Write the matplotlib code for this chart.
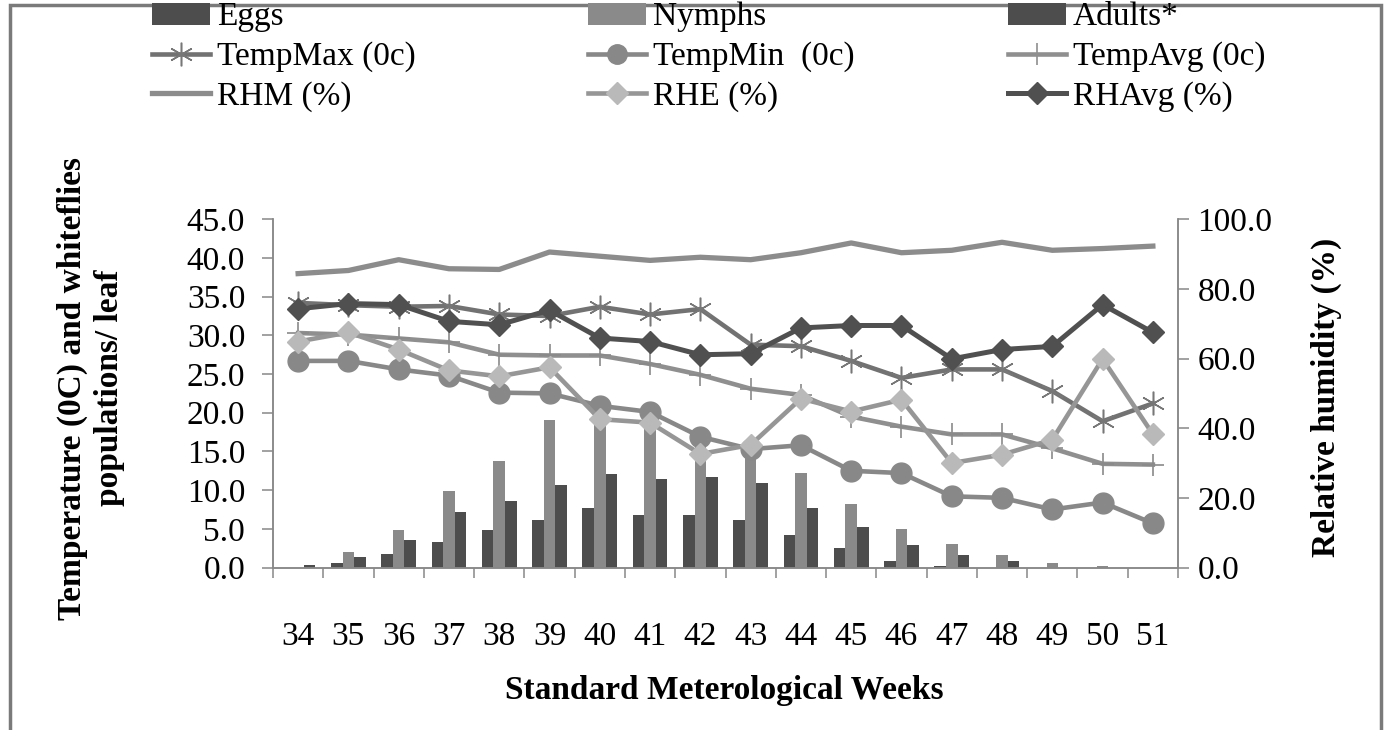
import matplotlib
matplotlib.use('Agg')
import matplotlib.pyplot as plt
from matplotlib.lines import Line2D
from matplotlib.patches import Patch, Rectangle
import numpy as np

# ---------------- data ----------------
weeks = ['34', '35', '36', '37', '38', '39', '40', '41', '42', '43', '44', '45',
         '46', '47', '48', '49', '50', '51']
eggs = [0.0, 0.6, 1.8, 3.3, 4.8, 6.2, 7.7, 6.8, 6.8, 6.1, 4.2, 2.5, 0.8, 0.2, 0.0, 0.0, 0.0, 0.0]
nymphs = [0.0, 2.0, 4.8, 9.9, 13.8, 19.1, 20.2, 19.5, 15.8, 15.5, 12.2, 8.2, 5.0, 3.1, 1.6, 0.6, 0.2, 0.0]
adults = [0.3, 1.4, 3.5, 7.2, 8.6, 10.7, 12.1, 11.5, 11.7, 10.9, 7.7, 5.2, 2.9, 1.6, 0.8, 0.0, 0.0, 0.0]

temp_max = [34.2, 33.9, 33.7, 33.8, 32.7, 32.5, 33.7, 32.7, 33.4, 28.8, 28.6, 26.7,
            24.5, 25.6, 25.6, 22.8, 18.9, 21.2]
temp_min = [26.7, 26.7, 25.6, 24.8, 22.6, 22.5, 20.9, 20.1, 16.9, 15.3, 15.8, 12.5,
            12.2, 9.2, 9.0, 7.5, 8.4, 5.7]
temp_avg = [30.3, 30.1, 29.6, 29.1, 27.5, 27.4, 27.4, 26.3, 24.9, 23.1, 22.3, 19.5,
            18.2, 17.2, 17.2, 15.4, 13.4, 13.3]

rhm = [84.4, 85.3, 88.4, 85.8, 85.6, 90.6, 89.4, 88.2, 89.1, 88.4, 90.4, 93.2,
       90.4, 91.1, 93.4, 91.1, 91.6, 92.3]
rhe = [64.9, 67.5, 62.6, 56.6, 54.9, 57.5, 42.6, 41.6, 32.6, 35.2, 48.5, 44.8,
       48.2, 30.0, 32.4, 36.7, 59.9, 38.3]
rh_avg = [74.3, 75.8, 75.5, 70.7, 69.7, 73.9, 65.9, 64.9, 61.1, 61.4, 68.8, 69.5,
          69.5, 59.9, 62.6, 63.5, 75.5, 67.5]

left_ticks = [0, 5, 10, 15, 20, 25, 30, 35, 40, 45]
right_ticks = [0, 20, 40, 60, 80, 100]

# ---------------- style ----------------
plt.rcParams['font.family'] = ['Liberation Serif', 'DejaVu Serif']
W, H = 1384, 730
FS = 24
SPINE = '#888888'

fig = plt.figure(figsize=(W / 100, H / 100), dpi=100)


def fx(px):
    return px / W


def fy(py):
    return 1 - py / H


ax_l, ax_r, ax_t, ax_b = 273, 1178, 219.3, 567.5
ax = fig.add_axes([fx(ax_l), fy(ax_b), (ax_r - ax_l) / W, (ax_b - ax_t) / H])
x = np.arange(len(weeks))
bw = 0.23

ax.bar(x - bw, eggs, bw, color='#4d4d4d', zorder=2)
ax.bar(x, nymphs, bw, color='#8a8a8a', zorder=2)
ax.bar(x + bw, adults, bw, color='#4d4d4d', zorder=2)

ax.plot(x, temp_avg, color='#8f8f8f', lw=3.3, marker='+', ms=16, mew=1.2,
        mec='#8a8a8a', zorder=3)
ax.plot(x, temp_min, color='#888888', lw=3.3, marker='o', ms=15, zorder=4)
ax.plot(x, temp_max, color='#727272', lw=3.3, marker=(6, 2, 0), ms=17, mew=1.1,
        mec='#777777', zorder=5)

ax.set_xlim(-0.5, len(weeks) - 0.5)
ax.set_ylim(0, 45)
ax.set_yticks(left_ticks)
ax.set_yticklabels([f'{v:.1f}' for v in left_ticks])
ax.set_xticks(x)
ax.set_xticklabels(weeks)
ax.set_xticks(np.arange(-0.5, len(weeks), 1.0), minor=True)
ax.tick_params(axis='x', which='major', length=0, pad=39, labelsize=FS)
ax.tick_params(axis='x', which='minor', length=7, width=1.1, color=SPINE)
ax.tick_params(axis='y', length=8, width=1.1, color=SPINE, pad=12, labelsize=FS)

ax2 = ax.twinx()
ax2.plot(x, rhm, color='#8c8c8c', lw=3.8, zorder=3)
ax2.plot(x, rhe, color='#969696', lw=3.3, marker='D', ms=11, mfc='#b9b9b9',
         mec='#b9b9b9', zorder=4)
ax2.plot(x, rh_avg, color='#505050', lw=3.6, marker='D', ms=11, mfc='#505050',
         mec='#505050', zorder=5)
ax2.set_ylim(0, 100)
ax2.set_yticks(right_ticks)
ax2.set_yticklabels([f'{v:.1f}' for v in right_ticks])
ax2.tick_params(axis='y', length=8, width=1.1, color=SPINE, pad=6, labelsize=FS)

for a in (ax, ax2):
    a.spines['top'].set_visible(False)
    for s in ('left', 'right', 'bottom'):
        a.spines[s].set_color(SPINE)
        a.spines[s].set_linewidth(1.1)
    a.patch.set_visible(False)

# axis titles
fig.text(fx(91), fy(388), 'Temperature (0C) and whiteflies\npopulations/ leaf',
         rotation=90, ha='center', va='center', fontsize=FS, fontweight='bold',
         multialignment='center', linespacing=1.25)
fig.text(fx(1326), fy(397), 'Relative humidity (%)', rotation=90, ha='center',
         va='center', fontsize=FS, fontweight='bold')
fig.text(fx(724), fy(690), 'Standard Meterological Weeks', ha='center',
         va='center', fontsize=FS, fontweight='bold')

# legends (three columns)
h_eggs = Patch(facecolor='#4d4d4d', edgecolor='none')
h_nym = Patch(facecolor='#8a8a8a', edgecolor='none')
h_adu = Patch(facecolor='#4d4d4d', edgecolor='none')
h_tmax = Line2D([], [], color='#727272', lw=3.3, marker=(6, 2, 0), ms=17, mew=1.1,
                mec='#777777')
h_tmin = Line2D([], [], color='#888888', lw=3.3, marker='o', ms=14)
h_tavg = Line2D([], [], color='#8f8f8f', lw=3.3, marker='+', ms=16, mew=1.2)
h_rhm = Line2D([], [], color='#8c8c8c', lw=3.8)
h_rhe = Line2D([], [], color='#969696', lw=3.3, marker='D', ms=11, mfc='#b9b9b9',
               mec='#b9b9b9')
h_rha = Line2D([], [], color='#505050', lw=3.6, marker='D', ms=11)

cols = [
    (152, [h_eggs, h_tmax, h_rhm], ['Eggs', 'TempMax (0c)', 'RHM (%)']),
    (588, [h_nym, h_tmin, h_rhe], ['Nymphs', 'TempMin  (0c)', 'RHE (%)']),
    (1008, [h_adu, h_tavg, h_rha], ['Adults*', 'TempAvg (0c)', 'RHAvg (%)']),
]
for xp, hs, ls in cols:
    fig.legend(hs, ls, loc='center left', bbox_to_anchor=(fx(xp), fy(57)),
               frameon=False, fontsize=FS, borderpad=0, borderaxespad=0,
               handlelength=1.75, handletextpad=0.2, labelspacing=0.27,
               handleheight=0.65)

# outer frame
fig.patches.append(Rectangle((fx(10), fy(740)), fx(1381) - fx(10), fy(5) - fy(740),
                             transform=fig.transFigure, fill=False,
                             edgecolor='#7a7a7a', linewidth=2.5, clip_on=False))

fig.savefig('out.png', dpi=100)
